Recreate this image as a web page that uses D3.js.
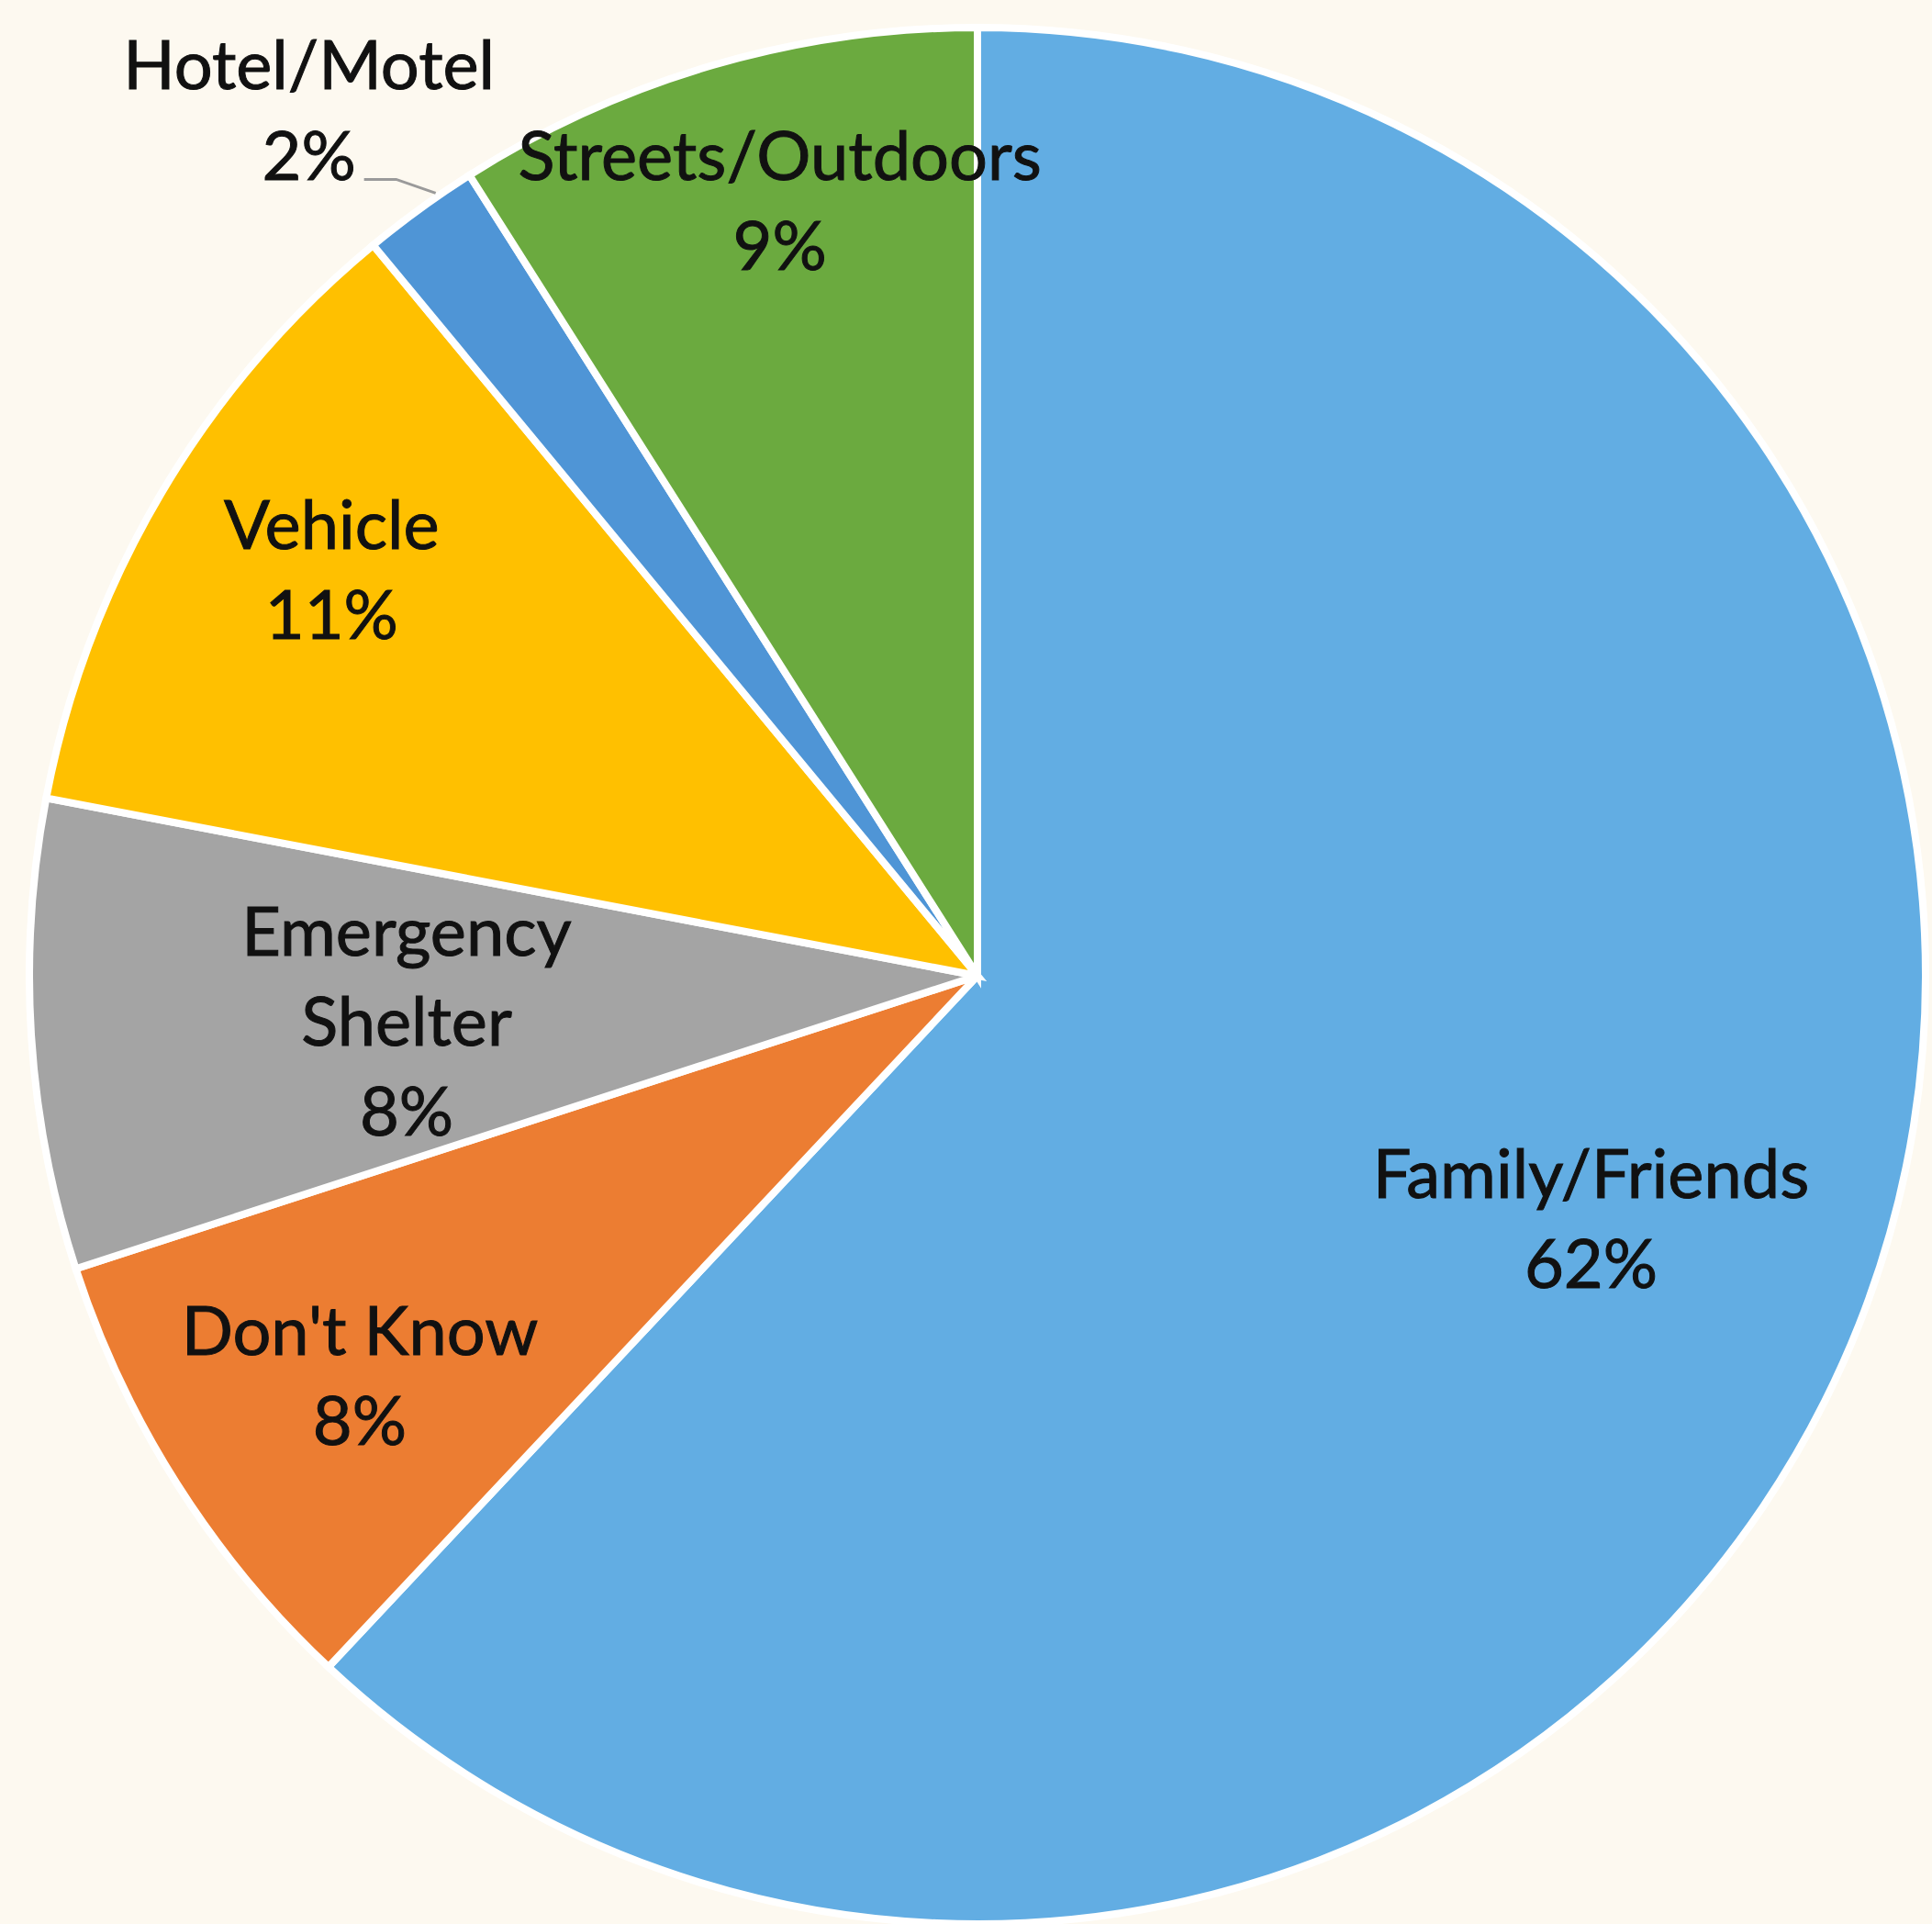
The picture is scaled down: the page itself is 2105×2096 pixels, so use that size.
<!DOCTYPE html>
<html>
<head>
<meta charset="utf-8">
<script src="https://cdn.jsdelivr.net/npm/d3@7/dist/d3.min.js"></script>
<style>
  html, body { margin: 0; padding: 0; background: #FDF9F0; }
  svg { display: block; }
  text { font-family: Lato, "Open Sans", sans-serif; fill: #111; stroke: #111; stroke-width: 1; }
</style>
</head>
<body>
<svg id="chart" width="2105" height="2096"></svg>
<script>
// Where people were staying (share of respondents), clockwise from 12 o'clock
const categories = ["Family/Friends", "Don't Know", "Emergency Shelter", "Vehicle", "Hotel/Motel", "Streets/Outdoors"];
const shares = [62, 8, 8, 11, 2, 9];
const labelLines = [["Family/Friends"], ["Don't Know"], ["Emergency", "Shelter"], ["Vehicle"], ["Hotel/Motel"], ["Streets/Outdoors"]];
const sliceColors = ["#62ADE3", "#EC7D32", "#A4A4A4", "#FFC000", "#4F95D6", "#6BAA3F"];

// Layout
const width = 2105, height = 2096;
const cx = 1065, cy = 1063, R = 1033;
const fontSize = 74, lineHeight = 98;
// label placement: radial position (fraction of radius, null = outside with leader)
// and a small angular shift (degrees) from the slice's mid-angle
const labelRadius = [0.696, 0.776, 0.604, 0.805, null, 0.844];
const labelShift = [0, -0.5, -0.9, 1.6, 1.3, 1.9];

const svg = d3.select("#chart");
svg.append("rect").attr("width", width).attr("height", height).attr("fill", "#FDF9F0");

const g = svg.append("g").attr("transform", `translate(${cx},${cy})`);

const data = categories.map((c, i) => ({
  name: c, value: shares[i], lines: labelLines[i], color: sliceColors[i],
  lr: labelRadius[i], shift: labelShift[i] * Math.PI / 180
}));

const pie = d3.pie().value(d => d.value).sort(null).startAngle(0).endAngle(2 * Math.PI);
const arcs = pie(data);

const arc = d3.arc().innerRadius(0).outerRadius(R);

g.selectAll("path.slice")
  .data(arcs)
  .join("path")
  .attr("class", "slice")
  .attr("d", arc)
  .attr("fill", d => d.data.color)
  .attr("stroke", "#FFFFFF")
  .attr("stroke-width", 8)
  .attr("stroke-linejoin", "miter");

const polar = (a, r) => [r * Math.sin(a), -r * Math.cos(a)];

// Labels inside the slices
arcs.filter(d => d.data.lr !== null).forEach(d => {
  const a = (d.startAngle + d.endAngle) / 2 + d.data.shift;
  const [x, y] = polar(a, R * d.data.lr);
  const lines = d.data.lines.concat([d.data.value + "%"]);
  const n = lines.length;
  const t = g.append("text")
    .attr("text-anchor", "middle")
    .attr("font-size", fontSize);
  lines.forEach((ln, i) => {
    t.append("tspan")
      .attr("x", x)
      .attr("y", y + (i - (n - 1) / 2) * lineHeight + fontSize * 0.36)
      .text(ln);
  });
});

// Small slice: label outside with a leader line
arcs.filter(d => d.data.lr === null).forEach(d => {
  const a = (d.startAngle + d.endAngle) / 2 + d.data.shift;
  const [ex, ey] = polar(a, R + 4);
  const kx = ex - 43, ky = ey - 15;
  const hx = kx - 35;
  g.append("path")
    .attr("d", d3.line()([[ex, ey], [kx, ky], [hx, ky]]))
    .attr("fill", "none")
    .attr("stroke", "#9A9A9A")
    .attr("stroke-width", 3);
  const tx = hx - 60;
  const t = g.append("text")
    .attr("text-anchor", "middle")
    .attr("font-size", fontSize);
  t.append("tspan").attr("x", tx).attr("y", ky - 98).text(d.data.lines[0]);
  t.append("tspan").attr("x", tx).attr("y", ky + 1).text(d.data.value + "%");
});
</script>
</body>
</html>
